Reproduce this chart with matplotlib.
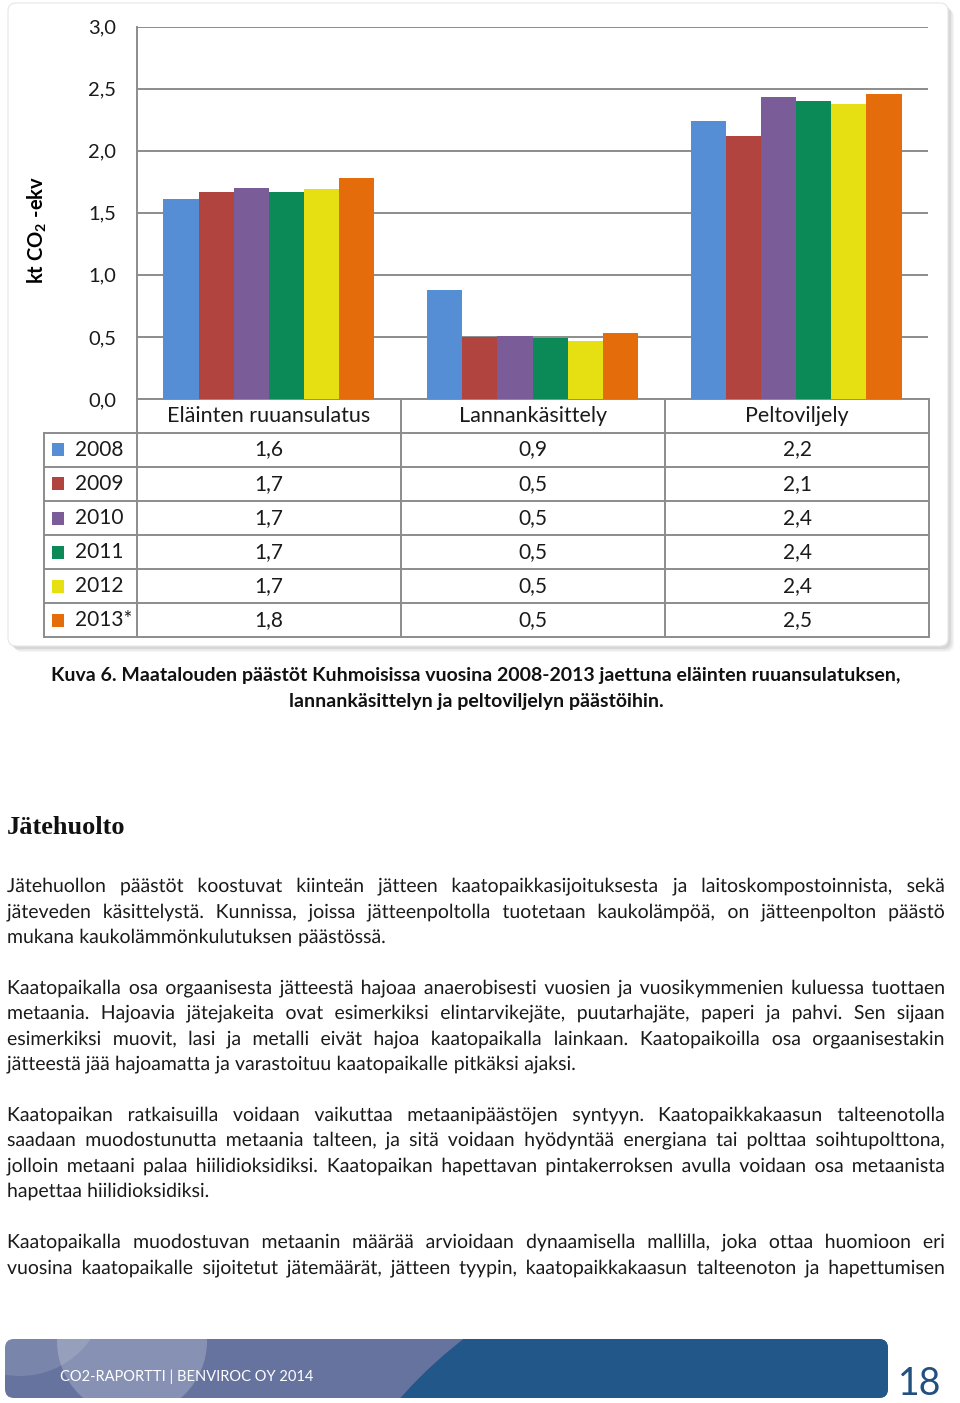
import matplotlib
matplotlib.use('Agg')
import matplotlib.pyplot as plt
from matplotlib.patches import FancyBboxPatch, Rectangle, Circle, PathPatch
from matplotlib.textpath import TextPath
from matplotlib.font_manager import FontProperties
from matplotlib.transforms import Affine2D
import numpy as np

# --- data ---
groups = ['Eläinten ruuansulatus', 'Lannankäsittely', 'Peltoviljely']
years = ['2008', '2009', '2010', '2011', '2012', '2013*']
v2008 = [1.61, 0.88, 2.24]
v2009 = [1.67, 0.50, 2.12]
v2010 = [1.70, 0.51, 2.43]
v2011 = [1.67, 0.49, 2.40]
v2012 = [1.69, 0.47, 2.38]
v2013 = [1.78, 0.53, 2.46]
series = [v2008, v2009, v2010, v2011, v2012, v2013]
colors = ['#558ed5', '#b2443f', '#7a5c99', '#0b8956', '#e6e012', '#e46c0a']
yticks = [0.0, 0.5, 1.0, 1.5, 2.0, 2.5, 3.0]

caption = ['Kuva 6. Maatalouden päästöt Kuhmoisissa vuosina 2008-2013 jaettuna eläinten ruuansulatuksen,',
           'lannankäsittelyn ja peltoviljelyn päästöihin.']
heading = 'Jätehuolto'
paragraphs = [
    ['Jätehuollon päästöt koostuvat kiinteän jätteen kaatopaikkasijoituksesta ja laitoskompostoinnista, sekä',
     'jäteveden käsittelystä. Kunnissa, joissa jätteenpoltolla tuotetaan kaukolämpöä, on jätteenpolton päästö',
     'mukana kaukolämmönkulutuksen päästössä.'],
    ['Kaatopaikalla osa orgaanisesta jätteestä hajoaa anaerobisesti vuosien ja vuosikymmenien kuluessa tuottaen',
     'metaania. Hajoavia jätejakeita ovat esimerkiksi elintarvikejäte, puutarhajäte, paperi ja pahvi. Sen sijaan',
     'esimerkiksi muovit, lasi ja metalli eivät hajoa kaatopaikalla lainkaan. Kaatopaikoilla osa orgaanisestakin',
     'jätteestä jää hajoamatta ja varastoituu kaatopaikalle pitkäksi ajaksi.'],
    ['Kaatopaikan ratkaisuilla voidaan vaikuttaa metaanipäästöjen syntyyn. Kaatopaikkakaasun talteenotolla',
     'saadaan muodostunutta metaania talteen, ja sitä voidaan hyödyntää energiana tai polttaa soihtupolttona,',
     'jolloin metaani palaa hiilidioksidiksi. Kaatopaikan hapettavan pintakerroksen avulla voidaan osa metaanista',
     'hapettaa hiilidioksidiksi.'],
    ['Kaatopaikalla muodostuvan metaanin määrää arvioidaan dynaamisella mallilla, joka ottaa huomioon eri',
     'vuosina kaatopaikalle sijoitetut jätemäärät, jätteen tyypin, kaatopaikkakaasun talteenoton ja hapettumisen'],
]
footer_text = 'CO2-RAPORTTI | BENVIROC OY 2014'
page_no = '18'

FONT = 'Lato'
plt.rcParams['font.family'] = [FONT, 'DejaVu Sans']
plt.rcParams['mathtext.fontset'] = 'custom'
plt.rcParams['mathtext.rm'] = 'Lato:bold'
plt.rcParams['mathtext.bf'] = 'Lato:bold'

W, H = 960, 1403
fig = plt.figure(figsize=(W / 100, H / 100), dpi=100)
fig.patch.set_facecolor('white')

# overlay in pixel coordinates
ov = fig.add_axes([0, 0, 1, 1], zorder=0)
ov.set_xlim(0, W)
ov.set_ylim(H, 0)
ov.axis('off')

def px(x0, y0, x1, y1):
    return [x0 / W, 1 - y1 / H, (x1 - x0) / W, (y1 - y0) / H]

# chart frame with a soft shadow
for k, a in enumerate([0.10, 0.14, 0.20]):
    off = 6 - k * 1.5
    ov.add_patch(FancyBboxPatch((8 + off, 3 + off), 940, 643, boxstyle='round,pad=0,rounding_size=8',
                                fc='#9a9a9a', ec='none', alpha=a, zorder=0))
ov.add_patch(FancyBboxPatch((8, 3), 940, 643, boxstyle='round,pad=0,rounding_size=8',
                            fc='white', ec='#e6e6e6', lw=0.8, zorder=1))

# bar chart
ax = fig.add_axes(px(137, 26.6, 928, 399), zorder=2)
ax.set_facecolor('none')
x = np.arange(len(groups))
bw = 0.8 / len(series)
for i, (vals, c) in enumerate(zip(series, colors)):
    ax.bar(x - 0.4 + bw * (i + 0.5), vals, width=bw, color=c, zorder=3, linewidth=0)
ax.set_xlim(-0.5, len(groups) - 0.5)
ax.set_ylim(0, 3)
ax.set_yticks(yticks)
ax.set_yticklabels([f'{t:.1f}'.replace('.', ',') for t in yticks], fontsize=14.5, color='#1a1a1a')
ax.tick_params(axis='y', length=0, pad=15)
ax.set_xticks([])
ax.grid(axis='y', color='#8c8c8c', lw=1.4, zorder=0)
for s in ['top', 'right', 'bottom']:
    ax.spines[s].set_visible(False)
ax.spines['left'].set_color('#8c8c8c')
ax.spines['left'].set_linewidth(1.4)
ax.set_ylabel('kt CO$_2$ -ekv', fontsize=14.5, fontweight='bold', labelpad=0)
ax.yaxis.set_label_coords(-(137 - 49) / (928 - 137), 0.455)

# data table under the chart
tcol = '#8c8c8c'
col_x = [137, 401, 665, 929]
row_y = [399, 432.5, 466.5, 501, 535, 569, 603, 637]
ov.plot([137, 929], [row_y[0], row_y[0]], color=tcol, lw=1.4, zorder=3)
for y in row_y[1:]:
    ov.plot([44, 929], [y, y], color=tcol, lw=1.4, zorder=3)
for cx in col_x:
    ov.plot([cx, cx], [row_y[0], row_y[-1]], color=tcol, lw=1.4, zorder=3)
ov.plot([44, 44], [row_y[1], row_y[-1]], color=tcol, lw=1.4, zorder=3)
for j, g in enumerate(groups):
    ov.text((col_x[j] + col_x[j + 1]) / 2, (row_y[0] + row_y[1]) / 2, g, fontsize=15.5,
            ha='center', va='center', color='#1a1a1a', zorder=4)
for i, (yr, vals, c) in enumerate(zip(years, series, colors)):
    yc = (row_y[i + 1] + row_y[i + 2]) / 2
    ov.add_patch(Rectangle((52, yc - 6.5), 12, 13, fc=c, ec='none', zorder=4))
    ov.text(75, yc, yr, fontsize=15, ha='left', va='center', color='#1a1a1a', zorder=4)
    for j, v in enumerate(vals):
        ov.text((col_x[j] + col_x[j + 1]) / 2, yc, f'{v:.1f}'.replace('.', ','), fontsize=15,
                ha='center', va='center', color='#1a1a1a', zorder=4)

# caption
for k, line in enumerate(caption):
    ov.text(476, 676 + 26 * k, line, fontsize=14, fontweight='bold', ha='center', va='center',
            color='#111111')

# heading
ov.text(7, 828, heading, fontsize=19, fontweight='bold', family='Liberation Serif',
        ha='left', va='center', color='#111111')

# justified body text: words drawn as text paths so they share one exact baseline
r = fig.canvas.get_renderer()
BODY = 14
body_fp = FontProperties(family=FONT, size=BODY)
size_px = BODY * 100 / 72
L, R = 7, 945

def adv(s):
    return r.get_text_width_height_descent(s, body_fp, ismath=False)[0]

space_w = adv('x x') - adv('xx')

def put_word(word, x0, base):
    tp = TextPath((0, 0), word, size=size_px, prop=body_fp)
    tr = Affine2D().scale(1, -1).translate(x0, base) + ov.transData
    ov.add_patch(PathPatch(tp, transform=tr, fc='#1a1a1a', ec='none', lw=0, zorder=3))

def put_line(line, y, just):
    words = line.split(' ')
    ws = [adv(w) for w in words]
    gap = (R - L - sum(ws)) / (len(ws) - 1) if just else space_w
    xx = L
    for w, wd in zip(words, ws):
        put_word(w, xx, y + 6)
        xx += wd + gap

para_y = [[886, 912, 937], [988, 1013, 1039, 1064], [1115, 1140, 1166, 1191], [1242, 1268]]
for pi, (para, ys) in enumerate(zip(paragraphs, para_y)):
    for li, (line, y) in enumerate(zip(para, ys)):
        last = li == len(para) - 1 and pi != len(paragraphs) - 1
        put_line(line, y, not last)

# footer banner
banner = FancyBboxPatch((5, 1339), 883, 59, boxstyle='round,pad=0,rounding_size=9',
                        fc='#66739e', ec='none', zorder=1)
ov.add_patch(banner)
decor = [Circle((742, 1700), 456, fc='#22578a', ec='none', zorder=2),
         Circle((20, 1290), 86, fc='white', alpha=0.13, ec='none', zorder=2),
         Circle((132, 1341), 75, fc='white', alpha=0.22, ec='none', zorder=2)]
for p in decor:
    ov.add_patch(p)
    p.set_clip_path(banner)
ov.text(60, 1377, footer_text, fontsize=10.5, color='white', ha='left', va='center', zorder=3)
ov.text(941, 1384, page_no, fontsize=27, color='#22507f', ha='right', va='center', zorder=3)

fig.savefig('out.png', dpi=100, facecolor='white')
